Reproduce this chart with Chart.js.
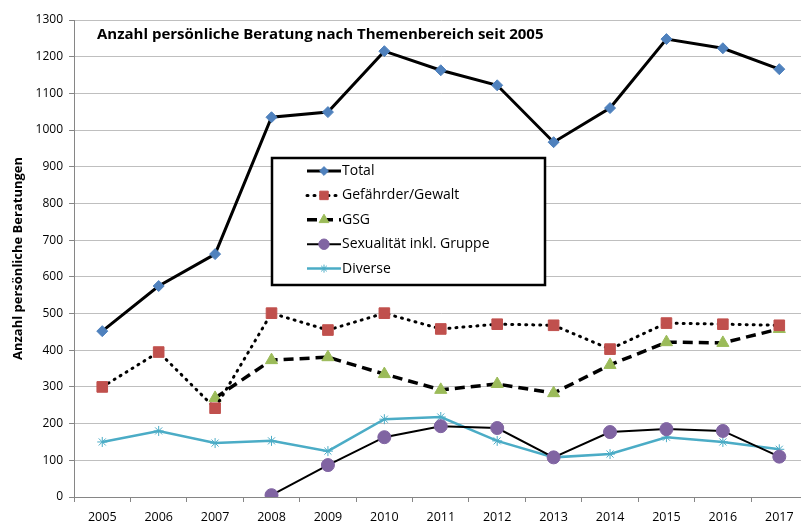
<!DOCTYPE html>
<html>
<head>
<meta charset="utf-8">
<script src="https://cdn.jsdelivr.net/npm/chart.js@4"></script>
<style>
  html, body { margin: 0; padding: 0; background: #fff; overflow: hidden; }
  #wrap { width: 801px; height: 525px; overflow: hidden; }
</style>
</head>
<body>
<div id="wrap"><canvas id="grafico" width="816" height="525"></canvas></div>
<script>
const jahre = ['2005','2006','2007','2008','2009','2010','2011','2012','2013','2014','2015','2016','2017'];
const total = [452, 575, 662, 1035, 1049, 1215, 1163, 1122, 967, 1060, 1248, 1223, 1166];
const gefaehrder = [300, 395, 242, 501, 455, 501, 458, 471, 468, 403, 474, 471, 468];
const gsg = [null, null, 270, 373, 381, 335, 292, 308, 283, 360, 422, 420, 458];
const sexualitaet = [null, null, null, 5, 87, 163, 193, 188, 108, 177, 185, 180, 110];
const diverse = [150, 180, 147, 153, 125, 212, 218, 153, 108, 117, 163, 150, 130];

const schrift = "'Open Sans', 'Noto Sans', sans-serif";

// Titel im Diagramm oben links
const titelPlugin = {
  id: 'titel',
  afterDraw(chart) {
    const ctx = chart.ctx;
    ctx.save();
    ctx.font = "bold 15px " + schrift;
    ctx.fillStyle = '#000';
    ctx.textBaseline = 'middle';
    ctx.fillText('Anzahl persönliche Beratung nach Themenbereich seit 2005', 97, 35);
    ctx.restore();
  }
};

// Legende mit Linie + Marker im Kasten
const legendePlugin = {
  id: 'legende',
  afterDraw(chart) {
    const ctx = chart.ctx;
    const x0 = 272, y0 = 158, w = 273, h = 127;
    ctx.save();
    ctx.fillStyle = '#fff';
    ctx.fillRect(x0, y0, w, h);
    ctx.lineWidth = 2.5;
    ctx.strokeStyle = '#000';
    ctx.strokeRect(x0, y0, w, h);
    ctx.font = "14px " + schrift;
    ctx.textBaseline = 'middle';
    chart.data.datasets.forEach((ds, i) => {
      const y = 171 + i * 24.4;
      ctx.save();
      ctx.strokeStyle = ds.borderColor;
      ctx.lineWidth = ds.borderWidth;
      ctx.lineCap = ds.borderCapStyle || 'butt';
      ctx.setLineDash(ds.borderDash || []);
      ctx.beginPath();
      ctx.moveTo(307, y);
      ctx.lineTo(341, y);
      ctx.stroke();
      ctx.restore();
      ctx.save();
      ctx.fillStyle = ds.pointBackgroundColor;
      ctx.strokeStyle = ds.pointBorderColor;
      ctx.lineWidth = ds.pointBorderWidth || 1;
      Chart.helpers.drawPoint(ctx, {
        pointStyle: ds.pointStyle,
        radius: ds.pointRadius * 0.8,
        borderWidth: ds.pointBorderWidth || 1,
        rotation: 0
      }, 324, y);
      ctx.restore();
      ctx.fillStyle = '#000';
      ctx.fillText(ds.label, 342, y);
    });
    ctx.restore();
  }
};

new Chart(document.getElementById('grafico').getContext('2d'), {
  type: 'line',
  data: {
    labels: jahre,
    datasets: [
      {
        label: 'Total',
        data: total,
        borderColor: '#000',
        borderWidth: 3,
        pointStyle: 'rectRot',
        pointRadius: 5.5,
        pointBackgroundColor: '#4F81BD',
        pointBorderColor: '#4F81BD',
        pointBorderWidth: 1
      },
      {
        label: 'Gefährder/Gewalt',
        data: gefaehrder,
        borderColor: '#000',
        borderWidth: 3,
        borderDash: [1, 6],
        borderCapStyle: 'round',
        pointStyle: 'rect',
        pointRadius: 7.5,
        pointBackgroundColor: '#C0504D',
        pointBorderColor: '#C0504D',
        pointBorderWidth: 1
      },
      {
        label: 'GSG',
        data: gsg,
        borderColor: '#000',
        borderWidth: 3.5,
        borderDash: [10, 6],
        pointStyle: 'triangle',
        pointRadius: 7,
        pointBackgroundColor: '#9BBB59',
        pointBorderColor: '#9BBB59',
        pointBorderWidth: 1
      },
      {
        label: 'Sexualität inkl. Gruppe',
        data: sexualitaet,
        borderColor: '#000',
        borderWidth: 2,
        pointStyle: 'circle',
        pointRadius: 6.5,
        pointBackgroundColor: '#8064A2',
        pointBorderColor: '#8064A2',
        pointBorderWidth: 1
      },
      {
        label: 'Diverse',
        data: diverse,
        borderColor: '#4BACC6',
        borderWidth: 2.5,
        pointStyle: 'star',
        pointRadius: 5,
        pointBackgroundColor: '#4BACC6',
        pointBorderColor: '#4BACC6',
        pointBorderWidth: 1
      }
    ]
  },
  options: {
    responsive: false,
    animation: false,
    spanGaps: false,
    layout: { padding: { top: 20, right: 6, left: 10, bottom: -8 } },
    scales: {
      x: {
        offset: true,
        grid: { display: true, drawOnChartArea: false, tickLength: 5, color: '#868686', offset: true },
        border: { color: '#868686', width: 1 },
        ticks: { color: '#000', font: { family: schrift, size: 12.5 }, padding: 8, maxRotation: 0 }
      },
      y: {
        min: 0,
        max: 1300,
        ticks: {
          stepSize: 100,
          color: '#000',
          font: { family: schrift, size: 12 },
          padding: 6,
          callback: v => String(v)
        },
        grid: { color: '#BFBFBF', lineWidth: 1, tickLength: 5, tickColor: '#868686' },
        border: { color: '#868686', width: 1 },
        title: {
          display: true,
          text: 'Anzahl persönliche Beratungen',
          color: '#000',
          font: { family: schrift, size: 13, weight: 'bold' },
          padding: { top: 0, bottom: 4 }
        }
      }
    },
    plugins: {
      legend: { display: false },
      tooltip: { enabled: false }
    }
  },
  plugins: [titelPlugin, legendePlugin]
});
</script>
</body>
</html>
